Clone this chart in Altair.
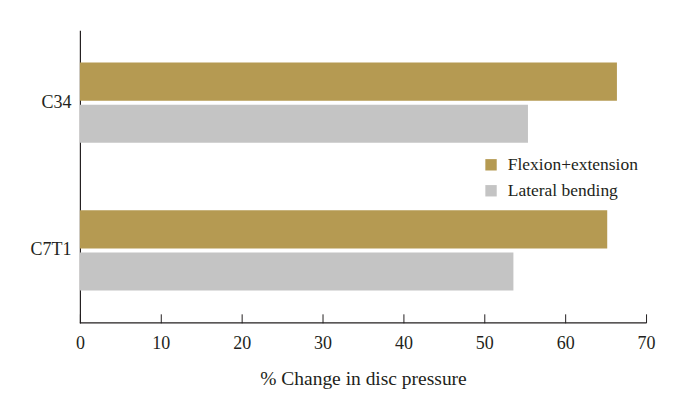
import altair as alt
import pandas as pd

segments = ["C34", "C34", "C7T1", "C7T1"]
motions = ["Flexion+extension", "Lateral bending", "Flexion+extension", "Lateral bending"]
values = [66.4, 55.4, 65.2, 53.6]

seg_order = ["C34", "C7T1"]
motion_order = ["Flexion+extension", "Lateral bending"]
colors = ["#B59A52", "#C4C4C4"]
x_ticks = [0, 10, 20, 30, 40, 50, 60, 70]

df = pd.DataFrame({"segment": segments, "motion": motions, "value": values})

FONT = "Liberation Serif"
INK = "#231F20"
W, H = 567, 293

bars = alt.Chart(df).mark_bar().encode(
    y=alt.Y("segment:N", sort=seg_order,
            scale=alt.Scale(paddingInner=0.456, paddingOuter=0.218),
            axis=alt.Axis(title=None, ticks=False, labelFontSize=18, labelPadding=9,
                          labelFont=FONT, labelColor=INK, domainColor=INK,
                          domainWidth=1.2, grid=False)),
    yOffset=alt.YOffset("motion:N", sort=motion_order,
                        scale=alt.Scale(paddingInner=0.095, paddingOuter=0)),
    x=alt.X("value:Q", scale=alt.Scale(domain=[0, 70], nice=False),
            axis=alt.Axis(values=x_ticks, title="% Change in disc pressure", offset=-9,
                          domain=False, tickSize=9, tickColor=INK, grid=False,
                          labelFlush=False,
                          labelFontSize=18, labelFont=FONT, labelColor=INK,
                          labelPadding=12, titleFont=FONT, titleFontSize=19.5,
                          titleFontWeight="normal", titleColor=INK, titlePadding=17)),
    color=alt.Color("motion:N", sort=motion_order,
                    scale=alt.Scale(domain=motion_order, range=colors),
                    legend=alt.Legend(title=None, orient="none", legendX=403, legendY=126,
                                      symbolType="square", symbolSize=130,
                                      symbolStrokeWidth=0, labelFont=FONT,
                                      labelFontSize=17.5, labelColor=INK,
                                      rowPadding=7, labelOffset=8)),
)

base_line = alt.Chart(pd.DataFrame({"v": [0]})).mark_rule(color=INK, strokeWidth=1.2).encode(
    x=alt.value(0), x2=alt.value(W), y=alt.value(H)
)

chart = alt.layer(bars, base_line).properties(
    width=W, height=H,
    background="white",
    autosize=alt.AutoSizeParams(type="none"),
    padding={"left": 72, "top": 22, "right": 30, "bottom": 70},
).configure_view(stroke="transparent", strokeWidth=0)

chart.save("out.html", embed_options={"renderer": "svg", "actions": False})
